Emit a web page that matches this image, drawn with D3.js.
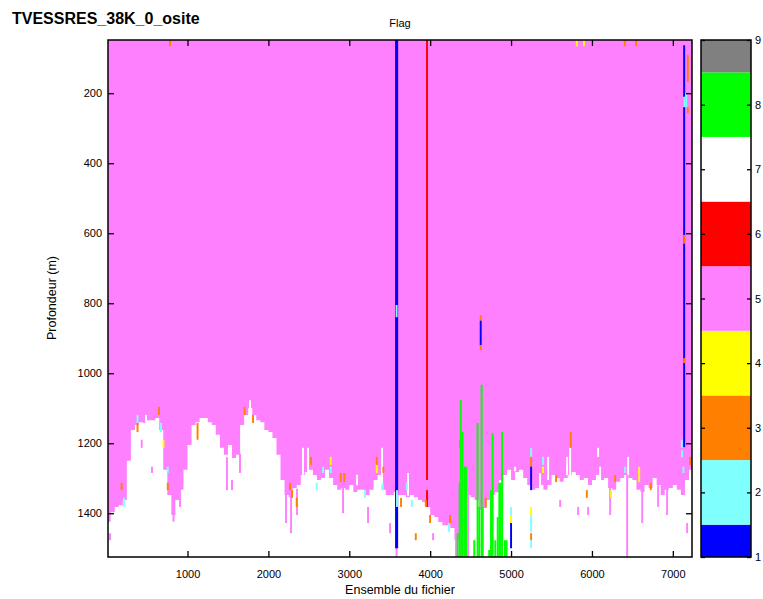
<!DOCTYPE html>
<html>
<head>
<meta charset="utf-8">
<script src="https://d3js.org/d3.v7.min.js"></script>
<style>
  body { margin: 0; background: #fff; }
  svg text { font-family: "Liberation Sans", Arial, sans-serif; fill: #000; }
</style>
</head>
<body>
<div id="chart"></div>
<script>
(function() {

  // flag values 1..9 and their colours
  var flagValues = [1, 2, 3, 4, 5, 6, 7, 8, 9];
  var flagColors = ["#0000ff", "#80ffff", "#ff8000", "#ffff00", "#ff80ff", "#ff0000", "#ffffff", "#00ff00", "#808080"];

  var xTicks = [1000, 2000, 3000, 4000, 5000, 6000, 7000];
  var yTicks = [200, 400, 600, 800, 1000, 1200, 1400];

  var ensRange = [17, 7237];
  var depthRange = [48, 1525];
  var binSize = 50;

  // depth (m) where the flag-5 block ends, one value per 50 ensembles
  var bottomDepth = [
    1424, 1397, 1382, 1377, 1362, 1250, 1162, 1148, 1140, 1142,
    1134, 1134, 1128, 1162, 1276, 1348, 1405, 1362, 1333, 1276,
    1205, 1148, 1140, 1128, 1128, 1140, 1148, 1176, 1213, 1233,
    1205, 1242, 1233, 1148, 1119, 1099, 1119, 1134, 1140, 1162,
    1168, 1185, 1233, 1305, 1348, 1354, 1328, 1319, 1291, 1282,
    1276, 1291, 1305, 1299, 1276, 1299, 1319, 1333, 1328, 1333,
    1319, 1339, 1333, 1333, 1348, 1333, 1305, 1291, 1333, 1348,
    1348, 1339, 1348, 1348, 1354, 1348, 1354, 1362, 1368, 1382,
    1405, 1411, 1425, 1434, 1434, 1442, 1476, 1525, 1525, 1348,
    1354, 1362, 1391, 1385, 1362, 1348, 1340, 1305, 1291, 1276,
    1305, 1282, 1276, 1299, 1319, 1333, 1328, 1319, 1333, 1319,
    1291, 1299, 1310, 1299, 1291, 1282, 1291, 1305, 1299, 1319,
    1305, 1291, 1305, 1299, 1328, 1333, 1310, 1299, 1291, 1299,
    1305, 1333, 1339, 1319, 1328, 1299, 1319, 1348, 1333, 1328,
    1319, 1333, 1348, 1305, 1276
  ];

  // single columns of flag 5 reaching below the block [ensemble, top, bottom]
  var pinkColumns = [
    [42, 1457, 1477], [434, 1190, 1213], [561, 1267, 1285], [827, 1340, 1424],
    [907, 1300, 1382], [1488, 1240, 1334], [1550, 1305, 1334], [1649, 1230, 1285],
    [2218, 1300, 1428], [2280, 1330, 1457], [2354, 1330, 1405], [2923, 1300, 1400],
    [3232, 1382, 1428], [3504, 1428, 1457], [3584, 1480, 1525], [4036, 1457, 1477],
    [4320, 1440, 1525], [4469, 1340, 1525], [5607, 1362, 1382], [5829, 1382, 1405],
    [5953, 1382, 1405], [6225, 1320, 1405], [6435, 1290, 1525], [6621, 1320, 1428],
    [6818, 1320, 1382], [6929, 1320, 1405], [7177, 1428, 1457]
  ];

  // single empty columns reaching above the block [ensemble, top, bottom]
  var whiteColumns = [
    [487, 1119, 1142], [1773, 1077, 1110], [2428, 1213, 1290], [2490, 1213, 1290],
    [3096, 1290, 1320], [3405, 1213, 1320], [3726, 1285, 1350], [5050, 1267, 1280],
    [5359, 1285, 1333], [5458, 1239, 1305], [5693, 1239, 1291], [5730, 1213, 1291],
    [6076, 1213, 1239], [6101, 1267, 1305], [6447, 1239, 1291]
  ];

  // other flags [ensemble, top, bottom, flag]
  var flagMarks = [
    [784, 48, 66, 3], [5813, 48, 66, 4], [5903, 48, 66, 4], [6406, 48, 66, 3], [6546, 48, 66, 3],
    [3578, 48, 1500, 1], [3592, 48, 1500, 1], [3585, 805, 840, 2], [3590, 1334, 1382, 2],
    [3961, 48, 1305, 6], [3961, 1334, 1382, 6],
    [7140, 63, 1211, 1], [7185, 91, 168, 3], [7185, 240, 257, 3], [7140, 210, 240, 2],
    [7165, 200, 240, 2], [7140, 605, 630, 3], [7140, 957, 971, 3], [7115, 1220, 1240, 2],
    [186, 1313, 1334, 3], [215, 1356, 1382, 2], [382, 1119, 1142, 2], [382, 1142, 1168, 3],
    [648, 1096, 1119, 3], [672, 1142, 1168, 2], [703, 1190, 1213, 4], [756, 1267, 1285, 2],
    [756, 1313, 1334, 3], [1124, 1142, 1190, 3], [1705, 1096, 1119, 3], [1810, 1119, 1142, 3],
    [2527, 1239, 1262, 3], [2771, 1239, 1262, 4], [2676, 1267, 1285, 2], [2771, 1267, 1285, 2],
    [2598, 1313, 1334, 2], [2268, 1313, 1334, 3], [2293, 1334, 1356, 3], [2350, 1356, 1382, 3],
    [2894, 1285, 1311, 3], [2939, 1285, 1311, 3], [3195, 1334, 1356, 2], [3340, 1239, 1262, 3],
    [3340, 1262, 1285, 4], [3421, 1267, 1285, 3], [3414, 1313, 1334, 2],
    [3640, 1356, 1382, 3], [3711, 1313, 1334, 2], [3773, 1362, 1382, 2], [3822, 1457, 1477, 3],
    [3946, 1362, 1382, 3], [3999, 1405, 1428, 3], [4246, 1405, 1428, 3], [4234, 1428, 1454, 2],
    [4370, 1190, 1213, 3], [4687, 1356, 1382, 3], [4778, 1405, 1428, 2],
    [4625, 834, 850, 3], [4625, 850, 920, 1], [4625, 920, 934, 3],
    [5000, 1382, 1405, 2], [5000, 1405, 1428, 4], [5000, 1428, 1500, 1],
    [5248, 1213, 1239, 2], [5248, 1239, 1267, 3], [5248, 1267, 1334, 1], [5248, 1382, 1405, 4],
    [5248, 1405, 1454, 2], [5248, 1457, 1477, 3], [5248, 1477, 1500, 2],
    [5396, 1239, 1262, 2], [5396, 1267, 1285, 4], [5739, 1168, 1213, 3], [5557, 1291, 1311, 3],
    [5937, 1334, 1356, 3], [6237, 1334, 1356, 4], [6287, 1291, 1311, 3], [6410, 1267, 1285, 2],
    [6584, 1267, 1311, 4], [6728, 1313, 1334, 3], [7131, 1267, 1285, 2], [7214, 1239, 1262, 3],
    [7111, 1190, 1213, 2],
    // flag 8 bars
    [4340, 1457, 1525, 8], [4365, 1313, 1525, 8], [4385, 1313, 1525, 8], [4378, 1077, 1313, 8],
    [4400, 1168, 1525, 8], [4430, 1267, 1525, 8], [4445, 1267, 1525, 8], [4545, 1477, 1525, 8],
    [4586, 1142, 1525, 8], [4606, 1382, 1525, 8], [4636, 1033, 1525, 8], [4650, 1382, 1525, 8],
    [4730, 1505, 1525, 8], [4752, 1334, 1525, 8], [4772, 1171, 1525, 8], [4805, 1477, 1525, 8],
    [4835, 1411, 1525, 8], [4855, 1313, 1525, 8], [4870, 1313, 1525, 8], [4890, 1168, 1525, 8],
    [4925, 1477, 1525, 8], [4945, 1477, 1525, 8]
  ];

  var colWidth = 24;

  var svg = d3.select("#chart")
    .append("svg")
    .attr("width", 763)
    .attr("height", 599);

  var x = d3.scaleLinear().domain(ensRange).range([108, 692]);
  var y = d3.scaleLinear().domain(depthRange).range([40, 557]);

  var color = d3.scaleOrdinal().domain(flagValues).range(flagColors);

  svg.append("clipPath")
    .attr("id", "plot-clip")
    .append("rect")
    .attr("x", x(ensRange[0]))
    .attr("y", y(depthRange[0]))
    .attr("width", x(ensRange[1]) - x(ensRange[0]))
    .attr("height", y(depthRange[1]) - y(depthRange[0]));

  var plot = svg.append("g").attr("clip-path", "url(#plot-clip)");

  plot.append("rect")
    .attr("x", x(ensRange[0]))
    .attr("y", y(depthRange[0]))
    .attr("width", x(ensRange[1]) - x(ensRange[0]))
    .attr("height", y(depthRange[1]) - y(depthRange[0]))
    .attr("fill", color(7));

  // the flag-5 block as one stepped area (no seams between bins)
  var steps = bottomDepth.concat([bottomDepth[bottomDepth.length - 1]]);
  var block = d3.area()
    .x(function(d, i) { return x(i * binSize); })
    .y0(y(depthRange[0]))
    .y1(function(d) { return y(d); })
    .curve(d3.curveStepAfter);

  plot.append("path")
    .datum(steps)
    .attr("d", block)
    .attr("fill", color(5));

  function columns(cls, data, fill) {
    plot.selectAll("." + cls)
      .data(data)
      .enter().append("rect")
      .attr("class", cls)
      .attr("x", function(d) { return x(d[0] - colWidth / 2); })
      .attr("width", function(d) { return x(d[0] + colWidth / 2) - x(d[0] - colWidth / 2); })
      .attr("y", function(d) { return y(d[1]); })
      .attr("height", function(d) { return y(d[2]) - y(d[1]); })
      .attr("fill", fill);
  }

  columns("white-col", whiteColumns, color(7));
  columns("pink-col", pinkColumns, color(5));
  columns("flag-col", flagMarks, function(d) { return color(d[3]); });

  // axes, ticks pointing inwards on all four sides
  var axisStyle = function(g) {
    g.select(".domain").remove();
    g.selectAll(".tick line").attr("stroke", "#000").attr("stroke-width", 1.3);
    g.selectAll(".tick text").style("font-size", "11px").attr("fill", "#000");
  };

  var fmt = d3.format("d");

  svg.append("g")
    .attr("transform", "translate(0," + y(depthRange[1]) + ")")
    .call(d3.axisBottom(x).tickValues(xTicks).tickFormat(fmt).tickSizeInner(-6).tickSizeOuter(0).tickPadding(13))
    .call(axisStyle);

  svg.append("g")
    .attr("transform", "translate(0," + y(depthRange[0]) + ")")
    .call(d3.axisTop(x).tickValues(xTicks).tickSizeInner(-6).tickSizeOuter(0).tickFormat(""))
    .call(axisStyle);

  svg.append("g")
    .attr("transform", "translate(" + x(ensRange[0]) + ",0)")
    .call(d3.axisLeft(y).tickValues(yTicks).tickFormat(fmt).tickSizeInner(-6).tickSizeOuter(0).tickPadding(6))
    .call(axisStyle);

  svg.append("g")
    .attr("transform", "translate(" + x(ensRange[1]) + ",0)")
    .call(d3.axisRight(y).tickValues(yTicks).tickSizeInner(-6).tickSizeOuter(0).tickFormat(""))
    .call(axisStyle);

  svg.append("rect")
    .attr("x", x(ensRange[0]))
    .attr("y", y(depthRange[0]))
    .attr("width", x(ensRange[1]) - x(ensRange[0]))
    .attr("height", y(depthRange[1]) - y(depthRange[0]))
    .attr("fill", "none")
    .attr("stroke", "#000")
    .attr("stroke-width", 1.5);

  // colour bar
  var cb = d3.scaleLinear().domain([1, 9]).range([557, 40]);
  var cbLeft = 701, cbRight = 751;

  svg.selectAll(".cb-band")
    .data(flagValues)
    .enter().append("rect")
    .attr("class", "cb-band")
    .attr("x", cbLeft)
    .attr("width", cbRight - cbLeft)
    .attr("y", function(d) { return cb(Math.min(9, d + 0.5)); })
    .attr("height", function(d) { return cb(Math.max(1, d - 0.5)) - cb(Math.min(9, d + 0.5)); })
    .attr("fill", function(d) { return color(d); });

  svg.append("g")
    .attr("transform", "translate(" + cbRight + ",0)")
    .call(d3.axisRight(cb).tickValues(flagValues).tickSizeInner(-4).tickSizeOuter(0).tickPadding(4))
    .call(axisStyle);

  svg.append("g")
    .attr("transform", "translate(" + cbLeft + ",0)")
    .call(d3.axisLeft(cb).tickValues(flagValues).tickSizeInner(-4).tickSizeOuter(0).tickFormat(""))
    .call(axisStyle);

  svg.append("rect")
    .attr("x", cbLeft)
    .attr("y", cb(9))
    .attr("width", cbRight - cbLeft)
    .attr("height", cb(1) - cb(9))
    .attr("fill", "none")
    .attr("stroke", "#000")
    .attr("stroke-width", 1.5);

  // texts
  svg.append("text")
    .attr("x", 12)
    .attr("y", 24)
    .style("font-size", "16px")
    .style("font-weight", "bold")
    .text("TVESSRES_38K_0_osite");

  svg.append("text")
    .attr("x", 400)
    .attr("y", 27)
    .attr("text-anchor", "middle")
    .style("font-size", "11px")
    .text("Flag");

  svg.append("text")
    .attr("x", 400)
    .attr("y", 594)
    .attr("text-anchor", "middle")
    .style("font-size", "12.5px")
    .text("Ensemble du fichier");

  svg.append("text")
    .attr("transform", "translate(56,298) rotate(-90)")
    .attr("text-anchor", "middle")
    .style("font-size", "12.5px")
    .text("Profondeur (m)");

})();
</script>
</body>
</html>
